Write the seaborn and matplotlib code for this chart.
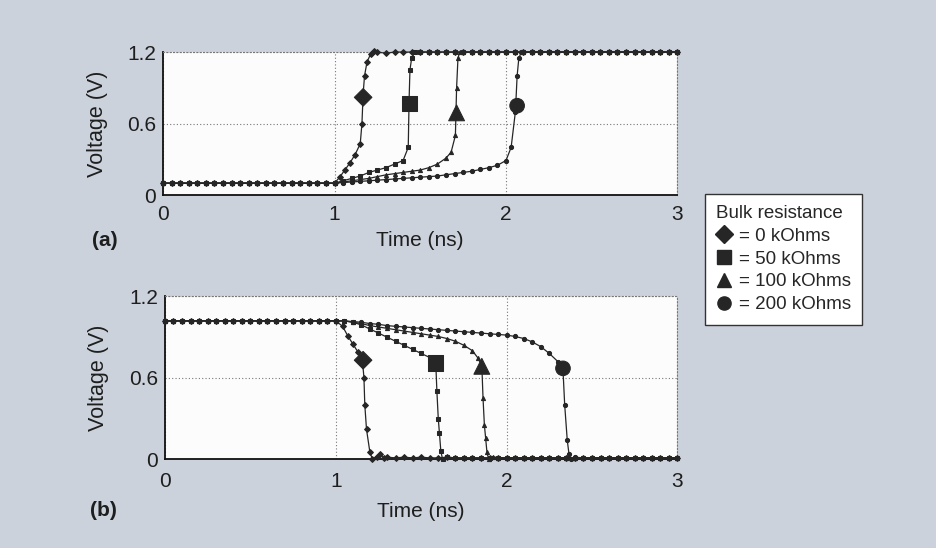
import seaborn as sns
import pandas as pd
import matplotlib.pyplot as plt
from matplotlib.lines import Line2D

# bulk resistance values and their marker shapes
resistances = ["0 kOhms", "50 kOhms", "100 kOhms", "200 kOhms"]
marker_map = {"0 kOhms": "D", "50 kOhms": "s", "100 kOhms": "^", "200 kOhms": "o"}
label_sizes = {"0 kOhms": 80, "50 kOhms": 120, "100 kOhms": 130, "200 kOhms": 110}

# shared time samples before the input edge (ns)
t_head = [0.0, 0.05, 0.1, 0.15, 0.2, 0.25, 0.3, 0.35, 0.4, 0.45,
          0.5, 0.55, 0.6, 0.65, 0.7, 0.75, 0.8, 0.85, 0.9, 0.95]

# ---- (a) rising output ----
a_v_head = [0.1, 0.1, 0.1, 0.1, 0.1, 0.1, 0.1, 0.1, 0.1, 0.1,
            0.1, 0.1, 0.1, 0.1, 0.1, 0.1, 0.1, 0.1, 0.1, 0.1]
a_t_tail = [2.15, 2.2, 2.25, 2.3, 2.35, 2.4, 2.45, 2.5, 2.55, 2.6,
            2.65, 2.7, 2.75, 2.8, 2.85, 2.9, 2.95, 3.0]
a_v_tail = [1.2, 1.2, 1.2, 1.2, 1.2, 1.2, 1.2, 1.2, 1.2, 1.2,
            1.2, 1.2, 1.2, 1.2, 1.2, 1.2, 1.2, 1.2]

a_t_0k = [1.0, 1.03, 1.06, 1.09, 1.12, 1.15, 1.16, 1.167, 1.175, 1.19, 1.21, 1.23,
          1.25, 1.3, 1.35, 1.4, 1.45, 1.5, 1.55, 1.6, 1.65, 1.7, 1.75, 1.8,
          1.85, 1.9, 1.95, 2.0, 2.05, 2.1]
a_v_0k = [0.1, 0.15, 0.21, 0.27, 0.34, 0.43, 0.6, 0.85, 1.0, 1.12, 1.18, 1.21,
          1.2, 1.19, 1.2, 1.2, 1.2, 1.2, 1.2, 1.2, 1.2, 1.2, 1.2, 1.2,
          1.2, 1.2, 1.2, 1.2, 1.2, 1.2]

a_t_50k = [1.0, 1.05, 1.1, 1.15, 1.2, 1.25, 1.3, 1.35, 1.4, 1.43, 1.435, 1.44,
           1.45, 1.47, 1.5, 1.55, 1.6, 1.65, 1.7, 1.75, 1.8, 1.85, 1.9, 1.95,
           2.0, 2.05, 2.1]
a_v_50k = [0.1, 0.12, 0.14, 0.16, 0.19, 0.21, 0.23, 0.26, 0.29, 0.4, 0.8, 1.05,
           1.15, 1.2, 1.2, 1.2, 1.2, 1.2, 1.2, 1.2, 1.2, 1.2, 1.2, 1.2,
           1.2, 1.2, 1.2]

a_t_100k = [1.0, 1.05, 1.1, 1.15, 1.2, 1.25, 1.3, 1.35, 1.4, 1.45, 1.5, 1.55,
            1.6, 1.65, 1.68, 1.705, 1.712, 1.72, 1.73, 1.75, 1.8, 1.85, 1.9, 1.95,
            2.0, 2.05, 2.1]
a_v_100k = [0.1, 0.11, 0.12, 0.13, 0.14, 0.155, 0.17, 0.18, 0.19, 0.2, 0.21, 0.23,
            0.26, 0.31, 0.36, 0.5, 0.9, 1.15, 1.2, 1.2, 1.2, 1.2, 1.2, 1.2,
            1.2, 1.2, 1.2]

a_t_200k = [1.0, 1.05, 1.1, 1.15, 1.2, 1.25, 1.3, 1.35, 1.4, 1.45, 1.5, 1.55,
            1.6, 1.65, 1.7, 1.75, 1.8, 1.85, 1.9, 1.95, 2.0, 2.03, 2.055, 2.065,
            2.075, 2.09, 2.1]
a_v_200k = [0.1, 0.105, 0.11, 0.115, 0.12, 0.125, 0.13, 0.135, 0.14, 0.145, 0.15, 0.155,
            0.16, 0.17, 0.18, 0.19, 0.2, 0.215, 0.23, 0.25, 0.29, 0.4, 0.7, 1.0,
            1.15, 1.2, 1.2]

a_label_t = [1.167, 1.437, 1.712, 2.065]
a_label_v = [0.82, 0.77, 0.69, 0.75]

# ---- (b) falling output ----
b_v_head = [1.02, 1.02, 1.02, 1.02, 1.02, 1.02, 1.02, 1.02, 1.02, 1.02,
            1.02, 1.02, 1.02, 1.02, 1.02, 1.02, 1.02, 1.02, 1.02, 1.02]
b_t_tail = [2.45, 2.5, 2.55, 2.6, 2.65, 2.7, 2.75, 2.8, 2.85, 2.9, 2.95, 3.0]
b_v_tail = [0.01, 0.01, 0.01, 0.01, 0.01, 0.01, 0.01, 0.01, 0.01, 0.01, 0.01, 0.01]

b_t_0k = [1.0, 1.04, 1.07, 1.1, 1.13, 1.156, 1.165, 1.17, 1.18, 1.2, 1.215, 1.24,
          1.26, 1.28, 1.3, 1.35, 1.4, 1.45, 1.5, 1.55, 1.6, 1.65, 1.7, 1.75,
          1.8, 1.85, 1.9, 1.95, 2.0, 2.05, 2.1, 2.15, 2.2, 2.25, 2.3, 2.35, 2.4]
b_v_0k = [1.02, 0.98, 0.91, 0.85, 0.79, 0.73, 0.6, 0.4, 0.22, 0.05, 0.0, 0.02,
          0.035, 0.01, 0.015, 0.01, 0.015, 0.01, 0.015, 0.01, 0.01, 0.015, 0.01, 0.01,
          0.01, 0.01, 0.01, 0.01, 0.01, 0.01, 0.01, 0.01, 0.01, 0.01, 0.01, 0.01, 0.01]

b_t_50k = [1.0, 1.05, 1.1, 1.15, 1.2, 1.25, 1.3, 1.35, 1.4, 1.45, 1.5, 1.55,
           1.585, 1.592, 1.6, 1.607, 1.615, 1.625, 1.65, 1.7, 1.75, 1.8, 1.85, 1.9,
           1.95, 2.0, 2.05, 2.1, 2.15, 2.2, 2.25, 2.3, 2.35, 2.4]
b_v_50k = [1.02, 1.02, 1.01, 0.99, 0.96, 0.93, 0.9, 0.87, 0.84, 0.81, 0.78, 0.75,
           0.72, 0.5, 0.3, 0.19, 0.06, 0.0, 0.015, 0.01, 0.01, 0.01, 0.01, 0.01,
           0.01, 0.01, 0.01, 0.01, 0.01, 0.01, 0.01, 0.01, 0.01, 0.01]

b_t_100k = [1.0, 1.05, 1.1, 1.15, 1.2, 1.25, 1.3, 1.35, 1.4, 1.45, 1.5, 1.55,
            1.6, 1.65, 1.7, 1.75, 1.8, 1.83, 1.855, 1.862, 1.87, 1.877, 1.885, 1.895,
            1.92, 1.95, 2.0, 2.05, 2.1, 2.15, 2.2, 2.25, 2.3, 2.35, 2.4]
b_v_100k = [1.02, 1.02, 1.01, 1.0, 0.985, 0.975, 0.965, 0.955, 0.945, 0.935, 0.925, 0.915,
            0.905, 0.89, 0.87, 0.84, 0.8, 0.75, 0.69, 0.45, 0.25, 0.16, 0.05, 0.0,
            0.02, 0.01, 0.01, 0.01, 0.01, 0.01, 0.01, 0.01, 0.01, 0.01, 0.01]

b_t_200k = [1.0, 1.05, 1.1, 1.15, 1.2, 1.25, 1.3, 1.35, 1.4, 1.45, 1.5, 1.55,
            1.6, 1.65, 1.7, 1.75, 1.8, 1.85, 1.9, 1.95, 2.0, 2.05, 2.1, 2.15,
            2.2, 2.25, 2.3, 2.33, 2.34, 2.355, 2.365, 2.375, 2.4]
b_v_200k = [1.02, 1.02, 1.015, 1.01, 1.0, 0.995, 0.985, 0.98, 0.975, 0.97, 0.965, 0.96,
            0.955, 0.95, 0.945, 0.94, 0.935, 0.93, 0.925, 0.92, 0.915, 0.905, 0.89, 0.865,
            0.83, 0.78, 0.72, 0.66, 0.4, 0.14, 0.04, 0.0, 0.015]

b_label_t = [1.16, 1.585, 1.855, 2.33]
b_label_v = [0.73, 0.71, 0.685, 0.67]


def build_frame(curves, head_v, tail_t, tail_v):
    rows = []
    for res, (tt, vv) in zip(resistances, curves):
        for t, v in zip(t_head + tt + tail_t, head_v + vv + tail_v):
            rows.append({"time": t, "voltage": v, "bulk": res})
    return pd.DataFrame(rows)


df_a = build_frame([(a_t_0k, a_v_0k), (a_t_50k, a_v_50k), (a_t_100k, a_v_100k), (a_t_200k, a_v_200k)],
                   a_v_head, a_t_tail, a_v_tail)
df_b = build_frame([(b_t_0k, b_v_0k), (b_t_50k, b_v_50k), (b_t_100k, b_v_100k), (b_t_200k, b_v_200k)],
                   b_v_head, b_t_tail, b_v_tail)
lab_a = pd.DataFrame({"time": a_label_t, "voltage": a_label_v, "bulk": resistances})
lab_b = pd.DataFrame({"time": b_label_t, "voltage": b_label_v, "bulk": resistances})

sns.set_theme(style="white")
plt.rcParams["font.family"] = ["Liberation Sans", "DejaVu Sans"]

BG = "#ccd2dc"
INK = "#262626"
TXT = "#1e1e1e"
FS = 15

fig = plt.figure(figsize=(9.37, 5.48), dpi=100, facecolor=BG)
ax_a = fig.add_axes([0.174, 0.644, 0.549, 0.261])
ax_b = fig.add_axes([0.176, 0.162, 0.547, 0.297])

for ax, df, lab, xpad, lpad in [(ax_a, df_a, lab_a, 7, 5), (ax_b, df_b, lab_b, 9, 8)]:
    ax.set_facecolor("#fcfcfc")
    sns.lineplot(data=df, x="time", y="voltage", style="bulk", markers=marker_map,
                 dashes=False, color=INK, linewidth=0.9, markersize=3.0,
                 markeredgecolor=INK, estimator=None, sort=False, legend=False,
                 clip_on=False, zorder=4, ax=ax)
    sns.scatterplot(data=lab, x="time", y="voltage", style="bulk", markers=marker_map,
                    size="bulk", sizes=label_sizes, color=INK, edgecolor=INK,
                    legend=False, zorder=5, ax=ax)
    ax.set_xlim(0, 3)
    ax.set_ylim(0, 1.2)
    ax.set_xticks([0, 1, 2, 3])
    ax.set_yticks([0, 0.6, 1.2])
    ax.set_yticklabels(["0", "0.6", "1.2"])
    ax.grid(True, linestyle=(0, (1, 2)), color="#777777", linewidth=0.8)
    ax.tick_params(axis="both", length=0, labelsize=FS, colors=TXT)
    ax.tick_params(axis="x", pad=xpad)
    ax.tick_params(axis="y", pad=5)
    for side in ["top", "right"]:
        ax.spines[side].set_linestyle((0, (1, 2)))
        ax.spines[side].set_color("#777777")
        ax.spines[side].set_linewidth(0.8)
    for side in ["left", "bottom"]:
        ax.spines[side].set_color("#111111")
        ax.spines[side].set_linewidth(1.3)
    ax.set_ylabel("Voltage (V)", fontsize=FS + 0.5, color=TXT, labelpad=14)
    ax.set_xlabel("Time (ns)", fontsize=FS, color=TXT, labelpad=lpad)

fig.text(92 / 937, 1 - 240 / 548, "(a)", fontsize=FS, fontweight="bold", ha="left", va="center", color=TXT)
fig.text(90 / 937, 1 - 510 / 548, "(b)", fontsize=FS, fontweight="bold", ha="left", va="center", color=TXT)

handles = [Line2D([], [], linestyle="none", marker=marker_map[r], markersize=9.5,
                  color=INK, label="= " + r) for r in resistances]
leg = fig.legend(handles=handles, title="Bulk resistance", loc="upper left",
                 bbox_to_anchor=(705 / 937, 1 - 194 / 548), borderaxespad=0, fontsize=13.5,
                 title_fontsize=13.5, frameon=True, fancybox=False, framealpha=1,
                 edgecolor="#333333", facecolor="#ffffff", handlelength=0.8,
                 handletextpad=0.4, labelspacing=0.3, borderpad=0.6, alignment="left")
leg.get_frame().set_linewidth(1.0)

fig.savefig("out.png", dpi=100, facecolor=BG)
